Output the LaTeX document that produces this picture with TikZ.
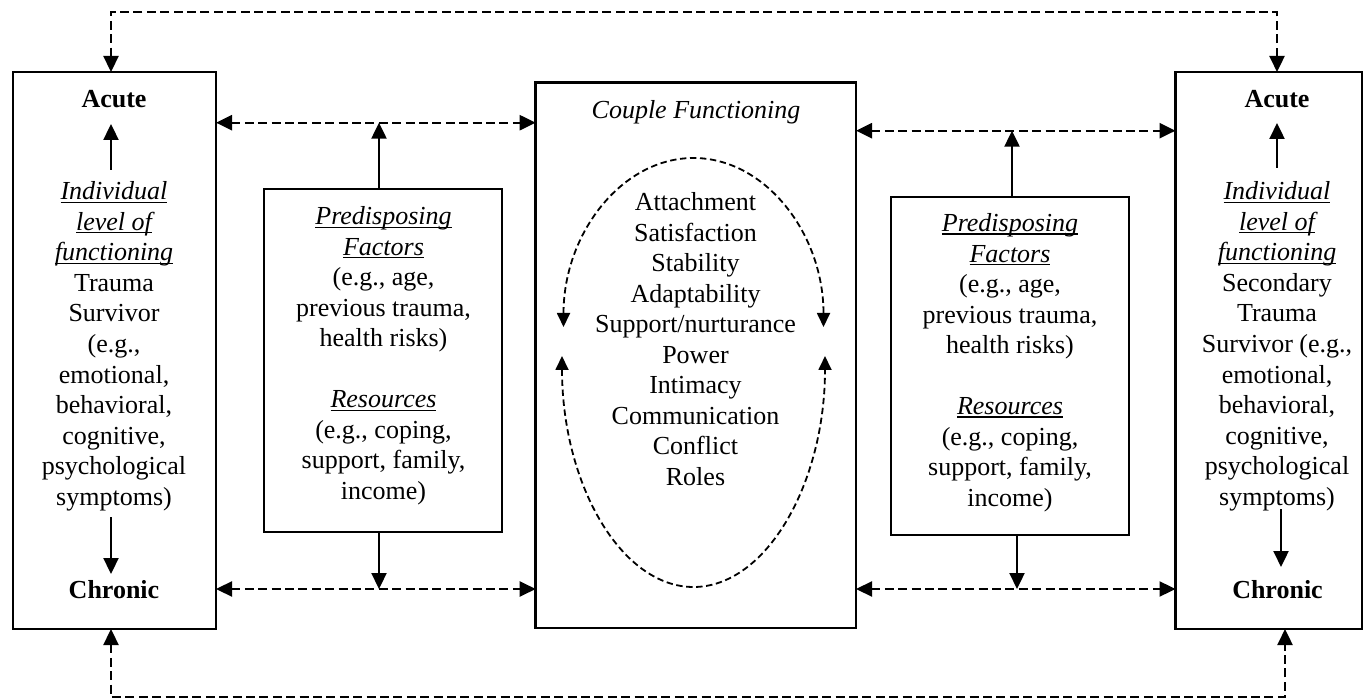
\documentclass[tikz,border=0pt]{standalone}
\usepackage{fontspec}
\setmainfont{Liberation Serif}
\usetikzlibrary{arrows.meta}
% italic text with a fixed-depth underline
\newcommand{\ulit}[1]{\setbox0=\hbox{\itshape #1}\leavevmode\rlap{\rule[-1.4pt]{\wd0}{0.55pt}}\box0}
\begin{document}
\begin{tikzpicture}[x=0.5pt,y=-0.5pt,
  box/.style={draw,line width=1.3pt,inner sep=0pt,outer sep=0pt},
  txt/.style={font=\fontsize{13}{15.25}\selectfont,align=center,inner sep=0pt,anchor=base},
  tip/.style={-{Triangle[length=8pt,width=7.5pt]}},
  solidarr/.style={line width=1.15pt,tip},
  dasharr/.style={line width=1.15pt,dash pattern=on 4.5pt off 2.2pt,
    {Triangle[length=8pt,width=7.5pt]}-{Triangle[length=8pt,width=7.5pt]}},
  ovalarr/.style={line width=0.9pt,dash pattern=on 3.2pt off 1.8pt,
    {Triangle[length=7pt,width=6.5pt]}-{Triangle[length=7pt,width=6.5pt]}}]
\useasboundingbox (0,0) rectangle (1364,699);

% main boxes
\node[box,minimum width=101.5pt,minimum height=278.5pt] (L) at (114.5,350.5) {};
\node[box,minimum width=93.25pt,minimum height=278.5pt] (R) at (1268.75,350.5) {};
\node[box,minimum width=160.15pt,minimum height=272.65pt] (C) at (695.85,355.35) {};
\node[box,minimum width=119pt,minimum height=171.5pt] (PL) at (383,360.5) {};
\node[box,minimum width=119pt,minimum height=169pt] (PR) at (1010,366) {};

% multi-line texts are placed by the baseline of their last line
% left individual
\node[txt,font=\fontsize{13}{15.25}\selectfont\bfseries] (aL) at (114,108) {Acute};
\node[txt] (tL) at (114,505) {\ulit{Individual}\\ \ulit{level of}\\ \ulit{functioning}\\ Trauma\\ Survivor\\ (e.g.,\\ emotional,\\ behavioral,\\ cognitive,\\ psychological\\ symptoms)};
\node[txt,font=\fontsize{13}{15.25}\selectfont\bfseries] (cL) at (114,598) {Chronic};

% right individual
\node[txt,font=\fontsize{13}{15.25}\selectfont\bfseries] (aR) at (1277,108) {Acute};
\node[txt] (tR) at (1277,505) {\ulit{Individual}\\ \ulit{level of}\\ \ulit{functioning}\\ Secondary\\ Trauma\\ Survivor (e.g.,\\ emotional,\\ behavioral,\\ cognitive,\\ psychological\\ symptoms)};
\node[txt,font=\fontsize{13}{15.25}\selectfont\bfseries] (cR) at (1277.5,598) {Chronic};

% predisposing factors and resources
\node[txt] (pL) at (383.5,499.5) {\ulit{Predisposing}\\ \ulit{Factors}\\ (e.g., age,\\ previous trauma,\\ health risks)\\[15.25pt] \ulit{Resources}\\ (e.g., coping,\\ support, family,\\ income)};
\node[txt] (pR) at (1010,506.2) {\ulit{Predisposing}\\ \ulit{Factors}\\ (e.g., age,\\ previous trauma,\\ health risks)\\[15.25pt] \ulit{Resources}\\ (e.g., coping,\\ support, family,\\ income)};

% couple functioning
\node[txt,font=\fontsize{13}{15.25}\selectfont\itshape] (cT) at (696,119) {Couple Functioning};
\node[txt] (cList) at (695.5,485.5) {Attachment\\ Satisfaction\\ Stability\\ Adaptability\\ Support/nurturance\\ Power\\ Intimacy\\ Communication\\ Conflict\\ Roles};

% cycle around the couple dimensions
\coordinate (ovTopL) at (563.5,327);
\coordinate (ovBotL) at (562,356);
\draw[ovalarr] (ovTopL) arc[start angle=180,end angle=0,x radius=65pt,y radius=84.5pt];
\draw[ovalarr] (ovBotL) arc[start angle=180,end angle=360,x radius=65.75pt,y radius=115.5pt];

% acute / chronic arrows inside the individual boxes
\coordinate (aLs) at (111,170); \coordinate (aLt) at (111,124);
\coordinate (cLs) at (111,517); \coordinate (cLt) at (111,574);
\coordinate (aRs) at (1277,168); \coordinate (aRt) at (1277,123);
\coordinate (cRs) at (1281,509); \coordinate (cRt) at (1281,567);
\draw[solidarr] (aLs) -- (aLt);
\draw[solidarr] (cLs) -- (cLt);
\draw[solidarr] (aRs) -- (aRt);
\draw[solidarr] (cRs) -- (cRt);

% links between the partners and the couple
\coordinate (ul) at (379,122.7);
\coordinate (ll) at (379,589);
\coordinate (ur) at (1012,130.7);
\coordinate (lr) at (1017,589);
\draw[dasharr] (L.east |- ul) -- (C.west |- ul);
\draw[dasharr] (L.east |- ll) -- (C.west |- ll);
\draw[dasharr] (C.east |- ur) -- (R.west |- ur);
\draw[dasharr] (C.east |- lr) -- (R.west |- lr);
\draw[solidarr] (PL.north -| ul) -- (ul);
\draw[solidarr] (PL.south -| ll) -- (ll);
\draw[solidarr] (PR.north -| ur) -- (ur);
\draw[solidarr] (PR.south -| lr) -- (lr);

% outer loops between the two partners
\coordinate (tl) at (111,12); \coordinate (tr) at (1277,12);
\coordinate (bl) at (111,697); \coordinate (br) at (1285,697);
\draw[dasharr] (R.north -| tr) -- (tr) -- (tl) -- (L.north -| tl);
\draw[dasharr] (L.south -| bl) -- (bl) -- (br) -- (R.south -| br);
\end{tikzpicture}
\end{document}
